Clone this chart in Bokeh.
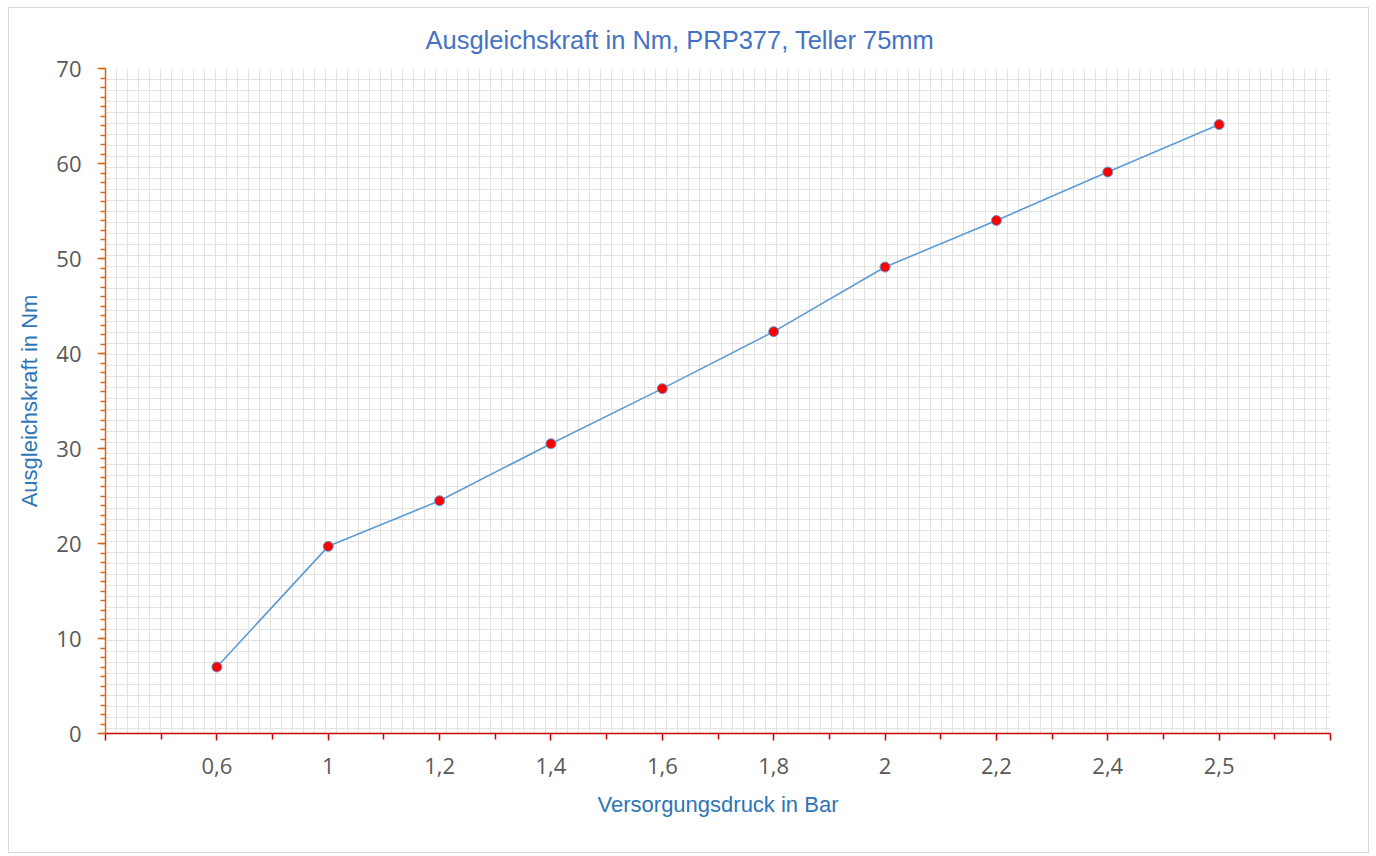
from bokeh.plotting import figure
from bokeh.models import FixedTicker, Range1d
from bokeh.embed import file_html
from bokeh.resources import INLINE

# ---- data ----
druck_labels = ["0,6", "1", "1,2", "1,4", "1,6", "1,8", "2", "2,2", "2,4", "2,5"]
kraft_nm = [7.0, 19.7, 24.5, 30.5, 36.3, 42.3, 49.1, 54.0, 59.1, 64.1]
y_ticks = [0, 10, 20, 30, 40, 50, 60, 70]

title_text = "Ausgleichskraft in Nm, PRP377, Teller 75mm"
x_title = "Versorgungsdruck in Bar"
y_title = "Ausgleichskraft in Nm"

# category positions (1..n), one empty slot each side
xpos = list(range(1, len(druck_labels) + 1))
n_slots = len(druck_labels) + 1

W, H = 1361, 846
ML, MR, MT, MB = 96, 40, 60, 121
frame_w = W - ML - MR
frame_h = H - MT - MB

p = figure(width=W, height=H, output_backend="svg", toolbar_location=None,
           x_range=Range1d(0, n_slots), y_range=Range1d(0, 70),
           min_border_left=ML, min_border_right=MR, min_border_top=MT, min_border_bottom=MB,
           title=title_text)
p.styles = {"border": "1px solid #D9D9D9", "margin-left": "8px", "margin-top": "7px"}
p.outline_line_color = None
p.background_fill_color = "white"
p.border_fill_color = "white"

NARROW = "Liberation Sans Narrow, Arial Narrow, Liberation Sans, sans-serif"

# title
p.title.align = "left"
p.title.text_font = NARROW
p.title.text_font_style = "normal"
p.title.text_font_size = "25.5px"
p.title.text_color = "#4472C4"
p.title.standoff = 30
p.title.offset = 320

# square background grid (pattern-like, 11px cells aligned to top-left)
cell = 11
gx = [i * cell * n_slots / frame_w for i in range(int(frame_w / cell) + 1)]
gy = [70 - i * cell * 70 / frame_h for i in range(int(frame_h / cell) + 1)]
p.xgrid.ticker = FixedTicker(ticks=gx)
p.ygrid.ticker = FixedTicker(ticks=gy)
for g in (p.xgrid, p.ygrid):
    g.grid_line_color = "#E3E3E3"
    g.grid_line_width = 1

# x axis
xa = p.xaxis[0]
xa.ticker = FixedTicker(ticks=list(range(0, n_slots + 1)),
                        minor_ticks=[i + 0.5 for i in range(0, n_slots)])
overrides = {0: "", n_slots: ""}
for i, lab in zip(xpos, druck_labels):
    overrides[i] = lab
xa.major_label_overrides = overrides
xa.axis_line_color = "#CC0000"
xa.axis_line_width = 1.5
xa.major_tick_line_color = "#CC0000"
xa.minor_tick_line_color = "#CC0000"
xa.major_tick_line_width = 1.5
xa.minor_tick_line_width = 1.5
xa.major_tick_in = 0
xa.major_tick_out = 7
xa.minor_tick_in = 0
xa.minor_tick_out = 6
xa.major_label_text_font = "Open Sans"
xa.major_label_text_font_size = "22px"
xa.major_label_text_color = "#595959"
xa.major_label_standoff = 17
xa.axis_label = x_title
xa.axis_label_text_font = NARROW
xa.axis_label_text_font_style = "normal"
xa.axis_label_text_font_size = "22px"
xa.axis_label_text_color = "#2E75B6"
xa.axis_label_standoff = 15

# y axis
ya = p.yaxis[0]
ya.ticker = FixedTicker(ticks=y_ticks, minor_ticks=list(range(0, 71)))
ya.axis_line_color = "#D2691E"
ya.axis_line_width = 1.5
ya.major_tick_line_color = "#D2691E"
ya.minor_tick_line_color = "#D2691E"
ya.major_tick_line_width = 1.5
ya.minor_tick_line_width = 1.5
ya.major_tick_in = 0
ya.major_tick_out = 8
ya.minor_tick_in = 0
ya.minor_tick_out = 5
ya.major_label_text_font = "Open Sans"
ya.major_label_text_font_size = "22px"
ya.major_label_text_color = "#595959"
ya.major_label_standoff = 16
ya.axis_label = y_title
ya.axis_label_text_font = NARROW
ya.axis_label_text_font_style = "normal"
ya.axis_label_text_font_size = "22px"
ya.axis_label_text_color = "#2E75B6"
ya.axis_label_standoff = 11

# series
p.line(xpos, kraft_nm, line_color="#5B9BD5", line_width=1.6)
p.scatter(xpos, kraft_nm, size=10, fill_color="#FF0000", line_color="#5B9BD5", line_width=1)

open("out.html", "w").write(file_html(p, INLINE))
